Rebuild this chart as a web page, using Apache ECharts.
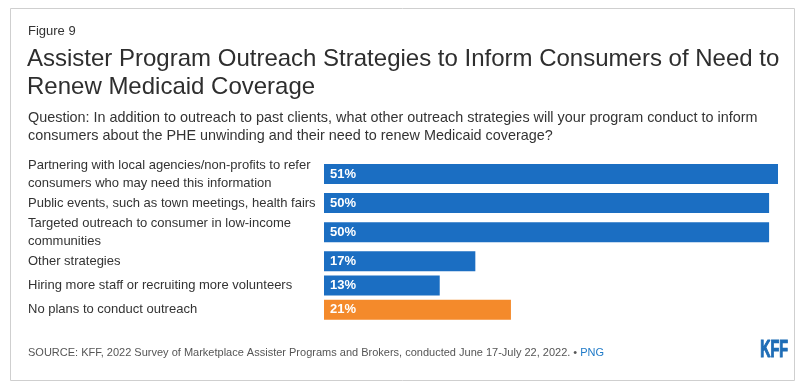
<!DOCTYPE html>
<html>
<head>
<meta charset="utf-8">
<script src="https://cdn.jsdelivr.net/npm/echarts@6/dist/echarts.min.js"></script>
<style>
  html, body { margin: 0; padding: 0; background: #fff; }
  #chart { width: 809px; height: 392px; }
</style>
</head>
<body>
<div id="chart"></div>
<script>
// ---- Data ----
var figureLabel = 'Figure 9';
var titleText = 'Assister Program Outreach Strategies to Inform Consumers of Need to\nRenew Medicaid Coverage';
var questionText = 'Question: In addition to outreach to past clients, what other outreach strategies will your program conduct to inform\nconsumers about the PHE unwinding and their need to renew Medicaid coverage?';
var categories = [
  'Partnering with local agencies/non-profits to refer\nconsumers who may need this information',
  'Public events, such as town meetings, health fairs',
  'Targeted outreach to consumer in low-income\ncommunities',
  'Other strategies',
  'Hiring more staff or recruiting more volunteers',
  'No plans to conduct outreach'
];
var values = [51, 50, 50, 17, 13, 21];
var highlight = [false, false, false, false, false, true];
var sourceText = 'SOURCE: KFF, 2022 Survey of Marketplace Assister Programs and Brokers, conducted June 17-July 22, 2022. \u2022 ';
var logoText = 'KFF';

var BLUE = '#1b6ec2';
var ORANGE = '#f48a2b';

// Build category slots: two-line labels take more vertical room than single-line ones
var axisData = [];
var seriesData = [];
categories.forEach(function (c, i) {
  var lines = c.split('\n').length;
  var slots = lines > 1 ? 7 : 5;
  var mid = Math.floor(slots / 2);
  for (var s = 0; s < slots; s++) {
    if (s === mid) {
      axisData.push(c);
      seriesData.push({
        value: values[i],
        itemStyle: { color: highlight[i] ? ORANGE : BLUE }
      });
    } else {
      axisData.push('');
      seriesData.push(null);
    }
  }
});

var chart = echarts.init(document.getElementById('chart'), null, { renderer: 'canvas' });
var FONT = '"Liberation Sans", Arial, sans-serif';

chart.setOption({
  animation: false,
  textStyle: { fontFamily: FONT },
  title: [
    {
      text: figureLabel, left: 28, top: 23, padding: 0,
      textStyle: { fontSize: 13, fontWeight: 'normal', color: '#333', lineHeight: 16, fontFamily: FONT }
    },
    {
      text: titleText, left: 27, top: 45, padding: 0,
      textStyle: { fontSize: 24, fontWeight: 'normal', color: '#2e2e2e', lineHeight: 28, fontFamily: FONT }
    },
    {
      text: questionText, left: 28, top: 109, padding: 0,
      textStyle: { fontSize: 14.4, fontWeight: 'normal', color: '#333', lineHeight: 18, fontFamily: FONT }
    },
    {
      text: '{s|' + sourceText + '}{p|PNG}', left: 28, top: 347, padding: 0,
      textStyle: {
        fontSize: 11, fontWeight: 'normal', fontFamily: FONT,
        rich: {
          s: { fontSize: 11, fontWeight: 'normal', color: '#555', fontFamily: FONT },
          p: { fontSize: 11, fontWeight: 'normal', color: '#1f7ac8', fontFamily: FONT }
        }
      }
    }
  ],
  graphic: [
    {
      type: 'rect', silent: true,
      shape: { x: 10.5, y: 8.5, width: 784, height: 372 },
      style: { fill: 'none', stroke: '#cfcfcf', lineWidth: 1 }
    },
    {
      type: 'text', silent: true,
      x: 788, y: 351, scaleX: 0.62,
      style: {
        text: logoText, fill: '#1f6db6', stroke: '#1f6db6', lineWidth: 1.2,
        font: 'bold 23px "Liberation Sans", Arial, sans-serif',
        align: 'right', verticalAlign: 'middle'
      }
    }
  ],
  grid: { left: 324, right: 31, top: 157, height: 165, containLabel: false },
  xAxis: {
    type: 'value', min: 0, max: Math.max.apply(null, values),
    show: false
  },
  yAxis: {
    type: 'category', data: axisData, inverse: true,
    axisLine: { show: false }, axisTick: { show: false }, splitLine: { show: false },
    axisLabel: {
      interval: 0, align: 'left', margin: 296,
      fontSize: 13, lineHeight: 18, color: '#333', fontFamily: FONT
    }
  },
  series: [{
    type: 'bar',
    data: seriesData,
    barWidth: 20,
    barGap: '0%',
    label: {
      show: true, position: 'insideLeft', distance: 6,
      formatter: '{c}%',
      color: '#fff', fontSize: 13, fontWeight: 'bold', fontFamily: FONT
    }
  }]
});
</script>
</body>
</html>
